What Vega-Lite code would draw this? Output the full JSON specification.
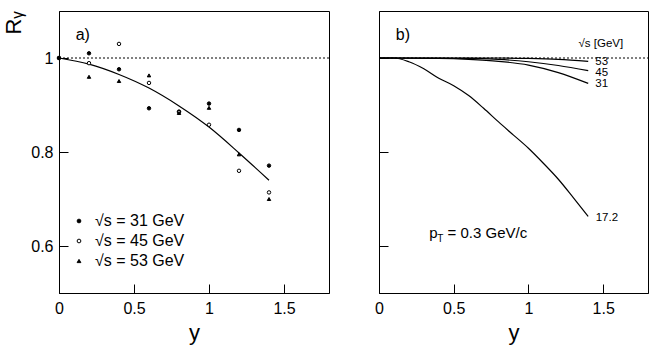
{
  "$schema": "https://vega.github.io/schema/vega-lite/v6.json",
  "background": "white",
  "padding": {"left": 2, "top": 10, "right": 5, "bottom": 2},
  "config": {
    "view": {"stroke": "black", "strokeWidth": 1},
    "font": "Liberation Sans",
    "axis": {"grid": false, "domainColor": "black", "tickColor": "black", "domainWidth": 1, "tickWidth": 1, "labelColor": "black", "titleColor": "black", "labelFont": "Liberation Sans", "titleFont": "Liberation Sans", "labelFontSize": 16, "titleFontSize": 22, "titleFontWeight": "normal"}
  },
  "datasets": {
    "points": [
      {"y": 0.0, "R": 1.0, "s": "45"},
      {"y": 0.0, "R": 1.0, "s": "31"},
      {"y": 0.2, "R": 1.010, "s": "31"},
      {"y": 0.4, "R": 0.976, "s": "31"},
      {"y": 0.6, "R": 0.893, "s": "31"},
      {"y": 0.8, "R": 0.886, "s": "31"},
      {"y": 1.0, "R": 0.903, "s": "31"},
      {"y": 1.2, "R": 0.847, "s": "31"},
      {"y": 1.4, "R": 0.771, "s": "31"},
      {"y": 0.2, "R": 0.989, "s": "45"},
      {"y": 0.4, "R": 1.030, "s": "45"},
      {"y": 0.6, "R": 0.947, "s": "45"},
      {"y": 0.8, "R": 0.885, "s": "45"},
      {"y": 1.0, "R": 0.858, "s": "45"},
      {"y": 1.2, "R": 0.760, "s": "45"},
      {"y": 1.4, "R": 0.714, "s": "45"},
      {"y": 0.2, "R": 0.960, "s": "53"},
      {"y": 0.4, "R": 0.951, "s": "53"},
      {"y": 0.6, "R": 0.963, "s": "53"},
      {"y": 0.8, "R": 0.883, "s": "53"},
      {"y": 1.0, "R": 0.894, "s": "53"},
      {"y": 1.2, "R": 0.795, "s": "53"},
      {"y": 1.4, "R": 0.700, "s": "53"}
    ],
    "fitA": [
      {"y": 0.0, "R": 1.0},
      {"y": 0.2, "R": 0.987},
      {"y": 0.4, "R": 0.965},
      {"y": 0.6, "R": 0.936},
      {"y": 0.8, "R": 0.898},
      {"y": 1.0, "R": 0.853},
      {"y": 1.2, "R": 0.798},
      {"y": 1.4, "R": 0.740}
    ],
    "curvesB": [
      {"y": 0.0, "R": 1.0, "s": "17.2"},
      {"y": 0.1, "R": 1.0, "s": "17.2"},
      {"y": 0.2, "R": 0.992, "s": "17.2"},
      {"y": 0.3, "R": 0.977, "s": "17.2"},
      {"y": 0.4, "R": 0.957, "s": "17.2"},
      {"y": 0.5, "R": 0.941, "s": "17.2"},
      {"y": 0.6, "R": 0.920, "s": "17.2"},
      {"y": 0.7, "R": 0.893, "s": "17.2"},
      {"y": 0.8, "R": 0.864, "s": "17.2"},
      {"y": 0.9, "R": 0.836, "s": "17.2"},
      {"y": 1.0, "R": 0.808, "s": "17.2"},
      {"y": 1.1, "R": 0.776, "s": "17.2"},
      {"y": 1.2, "R": 0.742, "s": "17.2"},
      {"y": 1.3, "R": 0.703, "s": "17.2"},
      {"y": 1.4, "R": 0.663, "s": "17.2"},
      {"y": 0.0, "R": 1.0, "s": "31"},
      {"y": 0.4, "R": 0.999, "s": "31"},
      {"y": 0.6, "R": 0.997, "s": "31"},
      {"y": 0.8, "R": 0.993, "s": "31"},
      {"y": 1.0, "R": 0.985, "s": "31"},
      {"y": 1.2, "R": 0.969, "s": "31"},
      {"y": 1.4, "R": 0.946, "s": "31"},
      {"y": 0.0, "R": 1.0, "s": "45"},
      {"y": 0.6, "R": 0.999, "s": "45"},
      {"y": 0.8, "R": 0.997, "s": "45"},
      {"y": 1.0, "R": 0.992, "s": "45"},
      {"y": 1.2, "R": 0.984, "s": "45"},
      {"y": 1.4, "R": 0.973, "s": "45"},
      {"y": 0.0, "R": 1.0, "s": "53"},
      {"y": 0.8, "R": 1.0, "s": "53"},
      {"y": 1.0, "R": 0.999, "s": "53"},
      {"y": 1.2, "R": 0.997, "s": "53"},
      {"y": 1.4, "R": 0.993, "s": "53"}
    ]
  },
  "hconcat": [
    {
      "width": 270,
      "height": 282,
      "layer": [
        {
          "data": {"values": [{"y": 0, "yEnd": 1.8, "R": 1}]},
          "mark": {"type": "rule", "strokeDash": [2, 2], "strokeWidth": 1, "color": "black"},
          "encoding": {
            "x": {"field": "y", "type": "quantitative", "scale": {"domain": [0, 1.8], "nice": false, "zero": false},
              "axis": {"orient": "bottom", "title": "y", "titlePadding": 6, "format": "~g", "values": [0, 0.5, 1, 1.5], "tickSize": -9, "labelPadding": 16, "labelFlush": false}},
            "x2": {"field": "yEnd"},
            "y": {"field": "R", "type": "quantitative", "scale": {"domain": [0.5, 1.1], "nice": false, "zero": false},
              "axis": {"orient": "left", "title": "Rᵧ", "titleAnchor": "end", "titlePadding": 5, "format": "~g", "values": [0.6, 0.8, 1], "tickSize": -9, "labelPadding": 15}}
          }
        },
        {
          "data": {"name": "fitA"},
          "mark": {"type": "line", "color": "black", "strokeWidth": 1.2, "interpolate": "monotone"},
          "encoding": {
            "x": {"field": "y", "type": "quantitative", "scale": {"domain": [0, 1.8], "nice": false, "zero": false}},
            "y": {"field": "R", "type": "quantitative", "scale": {"domain": [0.5, 1.1], "nice": false, "zero": false}}
          }
        },
        {
          "data": {"name": "points"},
          "mark": {"type": "point", "strokeWidth": 1, "size": 12, "opacity": 1},
          "encoding": {
            "x": {"field": "y", "type": "quantitative", "scale": {"domain": [0, 1.8], "nice": false, "zero": false}},
            "y": {"field": "R", "type": "quantitative", "scale": {"domain": [0.5, 1.1], "nice": false, "zero": false}},
            "shape": {"field": "s", "type": "nominal", "scale": {"domain": ["31", "45", "53"], "range": ["circle", "circle", "triangle-up"]},
              "legend": {"title": null, "orient": "none", "legendX": 12, "legendY": 202, "labelExpr": "'√s = ' + datum.label + ' GeV'", "labelFontSize": 16, "labelFont": "Liberation Sans", "labelColor": "black", "symbolSize": 14, "symbolStrokeWidth": 1, "rowPadding": 4, "labelOffset": 8, "padding": 0}},
            "fill": {"field": "s", "type": "nominal", "scale": {"domain": ["31", "45", "53"], "range": ["black", "white", "black"]},
              "legend": {"title": null, "orient": "none", "legendX": 12, "legendY": 202, "labelExpr": "'√s = ' + datum.label + ' GeV'", "labelFontSize": 16, "labelFont": "Liberation Sans", "labelColor": "black", "symbolSize": 14, "symbolStrokeWidth": 1, "rowPadding": 4, "labelOffset": 8, "padding": 0}},
            "stroke": {"field": "s", "type": "nominal", "scale": {"domain": ["31", "45", "53"], "range": ["black", "black", "black"]},
              "legend": {"title": null, "orient": "none", "legendX": 12, "legendY": 202, "labelExpr": "'√s = ' + datum.label + ' GeV'", "labelFontSize": 16, "labelFont": "Liberation Sans", "labelColor": "black", "symbolSize": 14, "symbolStrokeWidth": 1, "rowPadding": 4, "labelOffset": 8, "padding": 0}}
          }
        },
        {
          "data": {"values": [{"y": 0.111, "R": 1.049, "t": "a)"}]},
          "mark": {"type": "text", "align": "left", "baseline": "middle", "fontSize": 16, "font": "Liberation Sans", "color": "black"},
          "encoding": {
            "x": {"field": "y", "type": "quantitative", "scale": {"domain": [0, 1.8], "nice": false, "zero": false}},
            "y": {"field": "R", "type": "quantitative", "scale": {"domain": [0.5, 1.1], "nice": false, "zero": false}},
            "text": {"field": "t"}
          }
        }
      ]
    },
    {
      "width": 269,
      "height": 282,
      "layer": [
        {
          "data": {"values": [{"y": 0, "yEnd": 1.8, "R": 1}]},
          "mark": {"type": "rule", "strokeDash": [2, 2], "strokeWidth": 1, "color": "black"},
          "encoding": {
            "x": {"field": "y", "type": "quantitative", "scale": {"domain": [0, 1.8], "nice": false, "zero": false},
              "axis": {"orient": "bottom", "title": "y", "titlePadding": 6, "format": "~g", "values": [0, 0.5, 1, 1.5], "tickSize": -9, "labelPadding": 16, "labelFlush": false}},
            "x2": {"field": "yEnd"},
            "y": {"field": "R", "type": "quantitative", "scale": {"domain": [0.5, 1.1], "nice": false, "zero": false},
              "axis": {"orient": "left", "title": null, "labels": false, "values": [0.6, 0.8, 1], "tickSize": -9}}
          }
        },
        {
          "data": {"name": "curvesB"},
          "mark": {"type": "line", "color": "black", "strokeWidth": 1.2, "interpolate": "monotone"},
          "encoding": {
            "x": {"field": "y", "type": "quantitative", "scale": {"domain": [0, 1.8], "nice": false, "zero": false}},
            "y": {"field": "R", "type": "quantitative", "scale": {"domain": [0.5, 1.1], "nice": false, "zero": false}},
            "detail": {"field": "s", "type": "nominal"}
          }
        },
        {
          "data": {"values": [
            {"y": 0.112, "R": 1.049, "t": "b)", "k": "big"},
            {"y": 1.447, "R": 0.992, "t": "53", "k": "small"},
            {"y": 1.447, "R": 0.968, "t": "45", "k": "small"},
            {"y": 1.447, "R": 0.944, "t": "31", "k": "small"},
            {"y": 1.45, "R": 0.659, "t": "17.2", "k": "small"},
            {"y": 1.335, "R": 1.030, "t": "√s [GeV]", "k": "small"}
          ]},
          "mark": {"type": "text", "align": "left", "baseline": "middle", "font": "Liberation Sans", "color": "black"},
          "encoding": {
            "x": {"field": "y", "type": "quantitative", "scale": {"domain": [0, 1.8], "nice": false, "zero": false}},
            "y": {"field": "R", "type": "quantitative", "scale": {"domain": [0.5, 1.1], "nice": false, "zero": false}},
            "text": {"field": "t"},
            "size": {"field": "k", "type": "nominal", "scale": {"domain": ["big", "small"], "range": [16, 11.5]}, "legend": null}
          }
        },
        {
          "data": {"values": [{"y": 0.337, "R": 0.627, "t": "p"}]},
          "mark": {"type": "text", "align": "left", "baseline": "middle", "fontSize": 15, "font": "Liberation Sans", "color": "black"},
          "encoding": {
            "x": {"field": "y", "type": "quantitative", "scale": {"domain": [0, 1.8], "nice": false, "zero": false}},
            "y": {"field": "R", "type": "quantitative", "scale": {"domain": [0.5, 1.1], "nice": false, "zero": false}},
            "text": {"field": "t"}
          }
        },
        {
          "data": {"values": [{"y": 0.39, "R": 0.614, "t": "T"}]},
          "mark": {"type": "text", "align": "left", "baseline": "middle", "fontSize": 10, "font": "Liberation Sans", "color": "black"},
          "encoding": {
            "x": {"field": "y", "type": "quantitative", "scale": {"domain": [0, 1.8], "nice": false, "zero": false}},
            "y": {"field": "R", "type": "quantitative", "scale": {"domain": [0.5, 1.1], "nice": false, "zero": false}},
            "text": {"field": "t"}
          }
        },
        {
          "data": {"values": [{"y": 0.459, "R": 0.627, "t": "= 0.3 GeV/c"}]},
          "mark": {"type": "text", "align": "left", "baseline": "middle", "fontSize": 15, "font": "Liberation Sans", "color": "black"},
          "encoding": {
            "x": {"field": "y", "type": "quantitative", "scale": {"domain": [0, 1.8], "nice": false, "zero": false}},
            "y": {"field": "R", "type": "quantitative", "scale": {"domain": [0.5, 1.1], "nice": false, "zero": false}},
            "text": {"field": "t"}
          }
        }
      ]
    }
  ],
  "spacing": 44
}
